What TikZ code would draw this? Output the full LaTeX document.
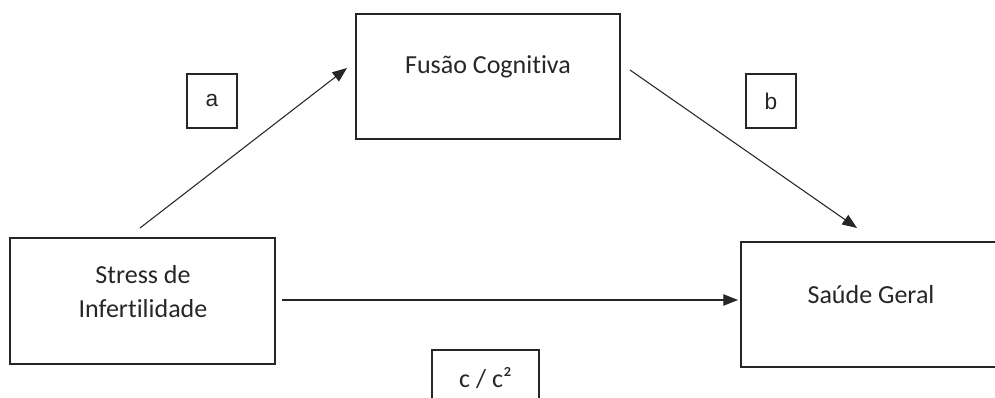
\documentclass[tikz,border=0pt]{standalone}
\usepackage{fontspec}
\setmainfont[Ligatures=NoCommon]{Carlito}
\newfontfamily\arialf{Liberation Sans}
\usetikzlibrary{arrows.meta}
\begin{document}
\begin{tikzpicture}[x=0.75pt,y=-0.75pt,
  box/.style={draw=black!85,line width=1.1pt,inner sep=0pt,rectangle},
  lbl/.style={text=black!85,font=\fontsize{19.5}{25.5}\selectfont,align=center,inner sep=0pt},
  smallbox/.style={draw=black!85,line width=0.9pt,inner sep=0pt,rectangle,minimum width=37.5pt,minimum height=40.5pt,text=black!85,font=\arialf\fontsize{17}{20}\selectfont},
  conn/.style={draw=black!85,line width=0.8pt,-{Triangle[length=11pt,width=8.5pt]}}]
\useasboundingbox (0,0) rectangle (995,398);
\clip (0,0) rectangle (995,398);
% boxes
\node[box,minimum width=198.75pt,minimum height=94.5pt] (st) at (142.5,301) {};
\node[box,minimum width=198pt,minimum height=93.75pt] (fc) at (488,76.5) {};
\node[box,minimum width=195pt,minimum height=93.75pt] (sg) at (871,304.5) {};
% texts
\node[lbl] (stt) at (143,292) {Stress de\\Infertilidade};
\node[lbl] (fct) at (488,67) {Fusão Cognitiva};
\node[lbl] (sgt) at (871,295) {Saúde Geral};
% path labels
\node[smallbox] (la) at (212,101) {a};
\node[smallbox] (lb) at (771,101) {b};
\node[draw=black!85,line width=1.1pt,inner sep=0pt,minimum width=80.25pt,minimum height=45pt] (lc) at (485.5,380) {};
\node[lbl] (lct) at (485.5,378) {c / c²};
% connectors
\coordinate (a1) at (140,228);
\coordinate (a2) at (347,68);
\coordinate (b1) at (630,70);
\coordinate (b2) at (857,228);
\coordinate (c1) at (282,300);
\coordinate (c2) at (738,300);
\draw[conn] (a1) -- (a2);
\draw[conn] (b1) -- (b2);
\draw[conn] (c1) -- (c2);
\end{tikzpicture}
\end{document}
